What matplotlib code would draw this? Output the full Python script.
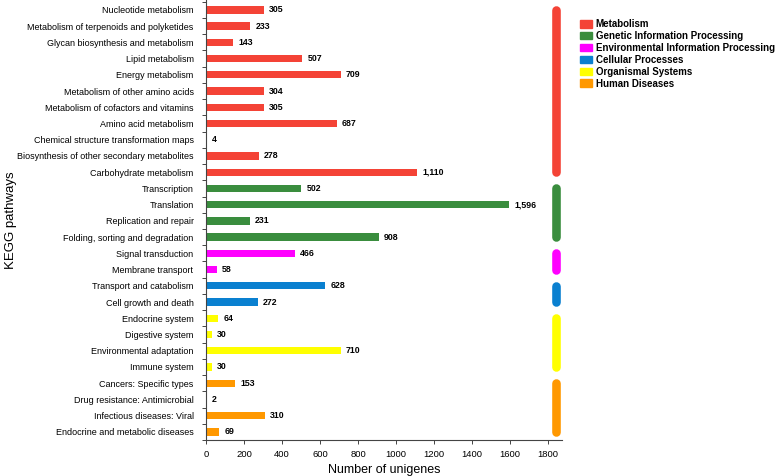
import matplotlib
matplotlib.use("Agg")
import matplotlib.pyplot as plt
import matplotlib.patches as mpatches
import numpy as np

plt.rcParams['font.family'] = ['Liberation Sans', 'DejaVu Sans']

pathways = [
    "Nucleotide metabolism",
    "Metabolism of terpenoids and polyketides",
    "Glycan biosynthesis and metabolism",
    "Lipid metabolism",
    "Energy metabolism",
    "Metabolism of other amino acids",
    "Metabolism of cofactors and vitamins",
    "Amino acid metabolism",
    "Chemical structure transformation maps",
    "Biosynthesis of other secondary metabolites",
    "Carbohydrate metabolism",
    "Transcription",
    "Translation",
    "Replication and repair",
    "Folding, sorting and degradation",
    "Signal transduction",
    "Membrane transport",
    "Transport and catabolism",
    "Cell growth and death",
    "Endocrine system",
    "Digestive system",
    "Environmental adaptation",
    "Immune system",
    "Cancers: Specific types",
    "Drug resistance: Antimicrobial",
    "Infectious diseases: Viral",
    "Endocrine and metabolic diseases",
]
counts = [305, 233, 143, 507, 709, 304, 305, 687, 4, 278, 1110,
          502, 1596, 231, 908,
          466, 58,
          628, 272,
          64, 30, 710, 30,
          153, 2, 310, 69]

groups = ["Metabolism", "Genetic Information Processing",
          "Environmental Information Processing", "Cellular Processes",
          "Organismal Systems", "Human Diseases"]
group_sizes = [11, 4, 2, 2, 4, 4]
group_colors = ["#f44336", "#3a8d3e", "#ff00ff", "#0a80d0", "#ffff00", "#ff9800"]

colors = []
for c, n in zip(group_colors, group_sizes):
    colors += [c] * n

fig = plt.figure(figsize=(7.78, 4.76), dpi=100)
ax = fig.add_axes([206 / 778, 1 - 440 / 476, 356 / 778, 440 / 476])

y = np.arange(len(pathways))
ax.barh(y, counts, height=0.45, color=colors)
for yi, v in zip(y, counts):
    ax.text(v + 27, yi, f"{v:,}", va='center', ha='left', fontsize=6.3,
            fontweight='bold')

# group indicator bars on the right
start = 0
for c, n in zip(group_colors, group_sizes):
    ax.plot([1842, 1842], [start, start + n - 1], color=c, lw=6.2,
            solid_capstyle='round')
    start += n

ax.set_xlim(0, 1873)
ax.set_ylim(26.4, -0.61)
ax.set_xticks(np.arange(0, 1801, 200))
ax.set_yticks(y)
ax.set_yticklabels(pathways)
ax.set_yticks(np.arange(-0.5, len(pathways), 1), minor=True)
ax.tick_params(axis='y', which='major', length=0, labelsize=6.5, pad=9)
ax.tick_params(axis='y', which='minor', length=3, width=0.7, color='#444444')
ax.tick_params(axis='x', length=3, width=0.7, labelsize=6.8, color='#444444', pad=4)

for s in ['top', 'right']:
    ax.spines[s].set_visible(False)
for s in ['left', 'bottom']:
    ax.spines[s].set_linewidth(0.8)
    ax.spines[s].set_color('#444444')

ax.set_xlabel("Number of unigenes", fontsize=9, labelpad=4)
ax.set_ylabel("KEGG pathways", fontsize=9.5)
ax.yaxis.set_label_coords(-0.53, 0.5, transform=ax.transAxes)

handles = [mpatches.Patch(color=c, label=g) for c, g in zip(group_colors, groups)]
fig.legend(handles=handles, loc='upper left', bbox_to_anchor=(580 / 778, 1 - 19 / 476),
           frameon=False, prop={'size': 7, 'weight': 'bold'},
           handlelength=1.2, handleheight=0.85, labelspacing=0.2,
           handletextpad=0.4, borderaxespad=0, borderpad=0)

fig.savefig("out.png", dpi=100)
